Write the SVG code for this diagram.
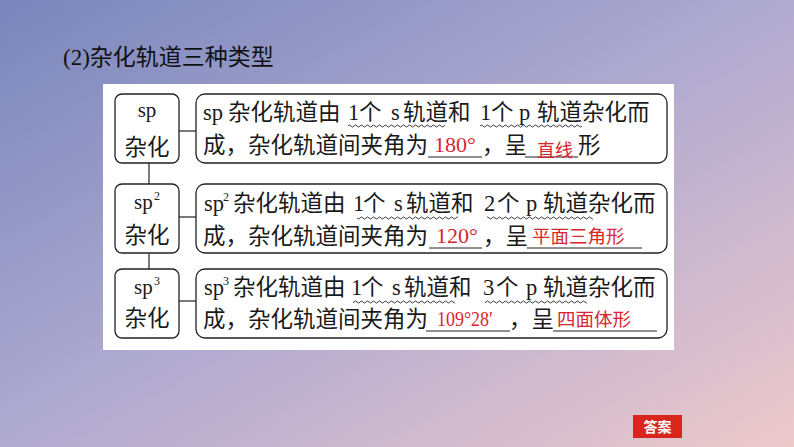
<svg xmlns="http://www.w3.org/2000/svg" width="794" height="447" viewBox="0 0 794 447">
<defs>
<linearGradient id="bg" x1="0" y1="0" x2="1" y2="1">
<stop offset="0" stop-color="#7986bc"/>
<stop offset="0.5" stop-color="#b0aad0"/>
<stop offset="1" stop-color="#edc9cb"/>
</linearGradient>
<pattern id="wave" width="6" height="4" patternUnits="userSpaceOnUse">
<path d="M0 2 Q1.5 0 3 2 T6 2" fill="none" stroke="#222" stroke-width="0.9"/>
</pattern>
<style>
.t{font-family:"Liberation Serif","Noto Sans CJK SC",serif;font-size:22.5px;fill:#1a1a1a}
.r{font-family:"Liberation Serif","Noto Sans CJK SC",serif;font-size:22px;fill:#d7262e}
.rc{font-family:"Noto Sans CJK SC",sans-serif;font-size:18.5px;fill:#d7262e}
.sup{font-family:"Liberation Serif",serif;font-size:12px;fill:#1a1a1a}
.box{fill:#fff;stroke:#222;stroke-width:1.3}
.ln{stroke:#222;stroke-width:1.2;fill:none}
.ul{stroke:#222;stroke-width:1.1}
</style>
</defs>
<rect width="794" height="447" fill="url(#bg)"/>
<text x="63" y="65" style="font-family:'Liberation Serif','Noto Sans CJK SC',sans-serif;font-size:23px;fill:#111">(2)杂化轨道三种类型</text>
<rect x="103" y="84" width="571" height="266" fill="#fff"/>

<g id="connectors">
<line class="ln" x1="149" y1="163" x2="149" y2="184"/>
<line class="ln" x1="149" y1="253" x2="149" y2="269"/>
<line class="ln" x1="179" y1="131" x2="196" y2="131"/>
<line class="ln" x1="179" y1="217" x2="196" y2="217"/>
<line class="ln" x1="179" y1="301" x2="196" y2="301"/>
</g>

<g id="sp">
<rect class="box" x="115" y="94" width="64" height="69" rx="7"/>
<text class="t" x="147" y="117" text-anchor="middle" style="font-size:21px">sp</text>
<text class="t" x="147" y="155" text-anchor="middle">杂化</text>
</g>
<g id="sp-desc">
<rect class="box" x="196" y="94" width="471" height="69" rx="9"/>
<text class="t" y="120"><tspan x="203">sp</tspan><tspan x="228">杂化轨道由</tspan><tspan x="348">1</tspan><tspan x="359">个</tspan><tspan x="391">s</tspan><tspan x="403">轨道和</tspan><tspan x="480">1</tspan><tspan x="491">个</tspan><tspan x="519">p</tspan><tspan x="537">轨道杂化而</tspan></text>
<rect x="348" y="124" width="97" height="4" fill="url(#wave)"/>
<rect x="480" y="124" width="102" height="4" fill="url(#wave)"/>
<text class="t" y="153"><tspan x="203">成，杂化轨道间夹角为</tspan><tspan x="482">，呈</tspan><tspan x="578">形</tspan></text>
<line class="ul" x1="428" y1="157" x2="482" y2="157"/>
<text class="r" x="455" y="152" text-anchor="middle">180°</text>
<line class="ul" x1="525" y1="157" x2="578" y2="157"/>
<text class="rc" x="537" y="157" style="font-size:18px">直线</text>
</g>

<g id="sp2">
<rect class="box" x="115" y="184" width="64" height="69" rx="7"/>
<text class="t" x="134" y="209" style="font-size:21px">sp</text>
<text class="sup" x="154" y="200">2</text>
<text class="t" x="147" y="243" text-anchor="middle">杂化</text>
</g>
<g id="sp2-desc">
<rect class="box" x="196" y="184" width="471" height="69" rx="9"/>
<text class="t" y="211"><tspan x="204">sp</tspan><tspan x="233">杂化轨道由</tspan><tspan x="353">1</tspan><tspan x="363">个</tspan><tspan x="394">s</tspan><tspan x="406">轨道和</tspan><tspan x="484">2</tspan><tspan x="497">个</tspan><tspan x="526">p</tspan><tspan x="543">轨道杂化而</tspan></text>
<text class="sup" x="223" y="201">2</text>
<rect x="357" y="216" width="101" height="4" fill="url(#wave)"/>
<rect x="487" y="216" width="106" height="4" fill="url(#wave)"/>
<text class="t" y="244"><tspan x="203">成，杂化轨道间夹角为</tspan><tspan x="483">，呈</tspan></text>
<line class="ul" x1="429" y1="248" x2="482" y2="248"/>
<text class="r" x="457" y="243" text-anchor="middle">120°</text>
<line class="ul" x1="527" y1="248" x2="642" y2="248"/>
<text class="rc" x="532" y="243">平面三角形</text>
</g>

<g id="sp3">
<rect class="box" x="115" y="269" width="64" height="69" rx="7"/>
<text class="t" x="134" y="294" style="font-size:21px">sp</text>
<text class="sup" x="154" y="285">3</text>
<text class="t" x="147" y="326" text-anchor="middle">杂化</text>
</g>
<g id="sp3-desc">
<rect class="box" x="196" y="269" width="471" height="69" rx="9"/>
<text class="t" y="295"><tspan x="204">sp</tspan><tspan x="233">杂化轨道由</tspan><tspan x="351">1</tspan><tspan x="361">个</tspan><tspan x="392">s</tspan><tspan x="404">轨道和</tspan><tspan x="483">3</tspan><tspan x="496">个</tspan><tspan x="526">p</tspan><tspan x="543">轨道杂化而</tspan></text>
<text class="sup" x="223" y="285">3</text>
<rect x="353" y="300" width="102" height="4" fill="url(#wave)"/>
<rect x="485" y="300" width="102" height="4" fill="url(#wave)"/>
<text class="t" y="327"><tspan x="203">成，杂化轨道间夹角为</tspan><tspan x="509">，呈</tspan></text>
<line class="ul" x1="426" y1="331" x2="510" y2="331"/>
<text class="r" x="437" y="326" textLength="56" lengthAdjust="spacingAndGlyphs">109°28′</text>
<line class="ul" x1="553" y1="331" x2="657" y2="331"/>
<text class="rc" x="557" y="326">四面体形</text>
</g>

<g id="answer">
<rect x="633" y="415" width="49" height="23" fill="#d9261c"/>
<text x="657.5" y="432" text-anchor="middle" style="font-family:'Noto Sans CJK SC',sans-serif;font-size:14px;font-weight:bold;fill:#fff">答案</text>
</g>
</svg>
